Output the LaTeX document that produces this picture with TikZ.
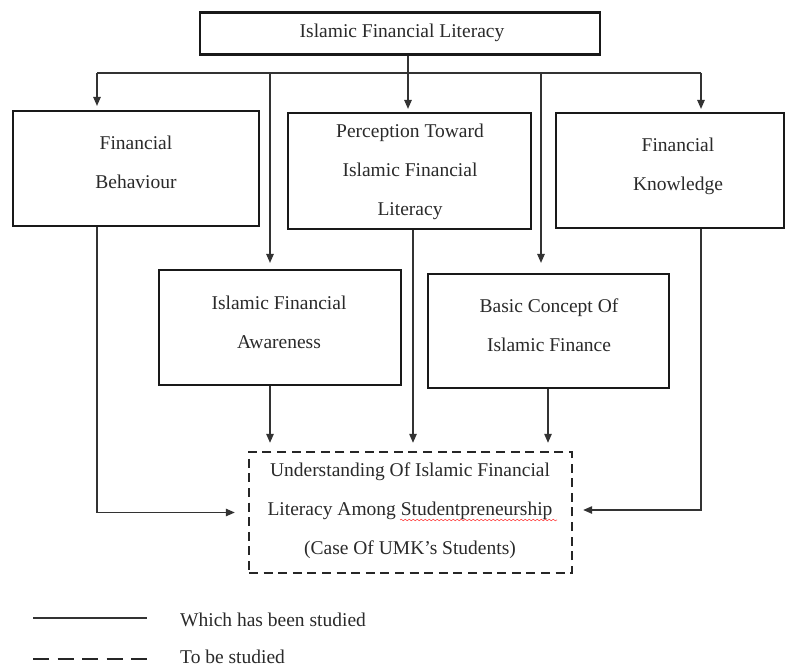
\documentclass[tikz,border=0pt]{standalone}
\usepackage{fontspec}
\setmainfont{Liberation Serif}
\usetikzlibrary{arrows.meta,decorations.pathmorphing}
\definecolor{ink}{HTML}{2A2A2A}
\tikzset{
  box/.style={draw=black!90, line width=2.2pt, inner sep=0pt, fill=white},
  todo/.style={draw=black!85, line width=2.4pt, inner sep=0pt, dash pattern=on 9pt off 5.6pt},
  label/.style={text=ink, align=center, inner sep=0pt, font=\fontsize{19.5}{39}\selectfont},
  conn/.style={draw=black!80, line width=1.2pt},
  arr/.style={conn, -{Triangle[length=9pt,width=7.5pt]}},
}
\begin{document}
\begin{tikzpicture}[x=1pt,y=-1pt]
\useasboundingbox[fill=white] (0,0) rectangle (787,668);

% boxes
\node[box, minimum width=400, minimum height=42]  (top) at (400,33.5)  {};
\node[box, minimum width=246, minimum height=115] (fb)  at (136,168.5) {};
\node[box, minimum width=243, minimum height=116] (pt)  at (409.5,171) {};
\node[box, minimum width=228, minimum height=115] (fk)  at (670,170.5) {};
\node[box, minimum width=242, minimum height=115] (aw)  at (280,327.5) {};
\node[box, minimum width=241, minimum height=114] (bc)  at (548.5,331) {};
\node[todo, minimum width=323, minimum height=121] (und) at (410.5,512.5) {};

% box texts
\node[label] (topT) at (402,33) {Islamic Financial Literacy};
\node[label] (fbT)  at (136,162.5) {Financial\\Behaviour};
\node[label] (ptT)  at (410,171.5) {Perception Toward\\Islamic Financial\\Literacy};
\node[label] (fkT)  at (678,166.5) {Financial\\Knowledge};
\node[label] (awT)  at (279,322.5) {Islamic Financial\\Awareness};
\node[label] (bcT)  at (549,325) {Basic Concept Of\\Islamic Finance};
\node[label] (undT) at (410,511) {Understanding Of Islamic Financial\\Literacy Among Studentpreneurship\\(Case Of UMK's Students)};

% spell-check underline
\draw[red!70, line width=0.6pt, decorate, decoration={snake, amplitude=0.8pt, segment length=4pt}]
  (400,520) -- (557,520);

% distribution bus
\coordinate (bus)  at (408,73);
\coordinate (busL) at (97,73);
\coordinate (busR) at (701,73);
\coordinate (busA) at (270,73);
\coordinate (busB) at (541,73);
\draw[conn] (top.south -| bus) -- (bus);
\draw[conn] (busL) -- (busR);
\draw[arr, shorten >=4pt] (busL) -- (fb.north -| busL);
\draw[arr, shorten >=3pt] (bus) -- (pt.north -| bus);
\draw[arr, shorten >=3pt] (busR) -- (fk.north -| busR);
\draw[arr, shorten >=6pt] (busA) -- (aw.north -| busA);
\draw[arr, shorten >=10pt] (busB) -- (bc.north -| busB);

% into the outcome box
\coordinate (cA) at (270,0);
\coordinate (cP) at (413,0);
\coordinate (cB) at (548,0);
\draw[arr, shorten >=8pt] (aw.south -| cA) -- (und.north -| cA);
\draw[arr, shorten >=8pt] (pt.south -| cP) -- (und.north -| cP);
\draw[arr, shorten >=8pt] (bc.south -| cB) -- (und.north -| cB);
\coordinate (cL) at (97,0);
\coordinate (cR) at (701,0);
\draw[arr, shorten >=13pt] (fb.south -| cL) |- (und.west);
\draw[arr, shorten >=10pt] (fk.south -| cR) |- ([yshift=2.5pt]und.east);

% legend
\coordinate (l1a) at (33,618);
\coordinate (l1b) at (147,618);
\coordinate (l2a) at (33,659);
\coordinate (l2b) at (147,659);
\draw[conn, line width=2pt] (l1a) -- (l1b);
\draw[draw=black!85, line width=2.6pt, dash pattern=on 16pt off 8.5pt] (l2a) -- (l2b);
\node[label, anchor=west] (lg1) at (180,620) {Which has been studied};
\node[label, anchor=west] (lg2) at (180,656.5) {To be studied};
\end{tikzpicture}
\end{document}
